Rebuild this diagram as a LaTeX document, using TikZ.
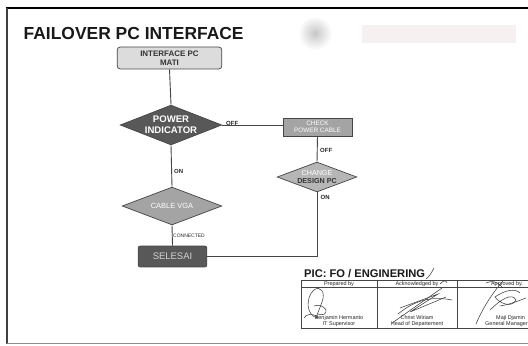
\documentclass[tikz,border=0pt]{standalone}
\usepackage{fontspec}
\setmainfont{Liberation Sans}
\usetikzlibrary{shapes.geometric}
\newcommand\myfs[1]{\fontsize{#1}{\fpeval{#1*1.12}}\selectfont}
\definecolor{lin}{HTML}{454545}
\definecolor{bxlight}{HTML}{DCDCDC}
\definecolor{bxdark}{HTML}{585858}
\definecolor{bxmid}{HTML}{A4A4A4}
\definecolor{bxmid2}{HTML}{B6B6B6}
\definecolor{seltext}{HTML}{D2D2D2}
\definecolor{pinkish}{HTML}{F6F0F0}
\begin{document}
\begin{tikzpicture}[x=1bp,y=-1bp,
  conn/.style={draw=lin, line width=0.9bp},
  boxst/.style={draw=lin, line width=0.7bp, rectangle, inner sep=0},
  diast/.style={draw=lin, line width=0.7bp, diamond, inner sep=0},
  lab/.style={font=\myfs{6}\bfseries, text=black!85, inner sep=0, anchor=west},
  tab/.style={draw=lin, line width=0.6bp},
  sig/.style={draw=black!75, line width=0.55bp, line cap=round},
  small/.style={font=\myfs{5.5}, inner sep=0, align=center, text=black!85}]
\useasboundingbox (0,0) rectangle (528,345);
\clip (0,0) rectangle (528,345);
\fill[white] (0,0) rectangle (528,345);
% frame
\draw[black, line width=2.2bp] (6,8) -- (530,8);
\draw[black!75, line width=2bp] (7,8) -- (7,343.5);
\draw[black!45, line width=1bp] (7,343.5) -- (530,343.5);
% blurred logo
\shade[inner color=black!22, outer color=white] (315,33) circle (17);
\fill[pinkish] (362,25) rectangle (516,43);
% title
\node[font=\myfs{17.5}\bfseries, inner sep=0, anchor=base west, text=black!90] (title) at (23.5,39.5) {FAILOVER PC INTERFACE};
% nodes
\node[boxst, rounded corners=3bp, fill=bxlight, minimum width=105, minimum height=22,
  font=\myfs{8}\bfseries, align=center, text=black!80] (ipc) at (169.5,58) {INTERFACE PC\\MATI};
\node[diast, fill=bxdark, minimum width=102, minimum height=40,
  label={[font=\myfs{9.6}\bfseries, text=white, align=center, inner sep=0]center:{POWER\\INDICATOR}}] (pw) at (171,125) {};
\node[boxst, fill=bxmid, minimum width=69, minimum height=18,
  font=\myfs{6.4}, align=center, text=white] (chk) at (317.5,127) {CHECK\\POWER CABLE};
\node[diast, fill=bxmid2, minimum width=80, minimum height=30,
  label={[font=\myfs{7.2}, align=center, inner sep=0]center:{\textcolor{white}{CHANGE}\\\textcolor{black!80}{\bfseries DESIGN PC}}}] (chg) at (317,177) {};
\node[diast, fill=bxmid, minimum width=100, minimum height=38,
  label={[font=\myfs{7.5}, text=white, inner sep=0]center:{CABLE VGA}}] (vga) at (172,206) {};
\node[boxst, rounded corners=2bp, fill=bxdark, minimum width=69, minimum height=21,
  font=\myfs{9.5}, text=seltext] (sel) at (172.5,256.5) {SELESAI};
\coordinate (corner) at (chg.south |- sel.east);
% connectors
\draw[conn] (ipc.south) -- (pw.north);
\draw[conn] (pw.east) -- (pw.east -| chk.west);
\draw[conn] (chk.south) -- (chg.north);
\draw[conn] (chg.south) -- (corner) -- (sel.east);
\draw[conn] (pw.south) -- (vga.north);
\draw[conn] (vga.south) -- (sel.north);
% labels
\node[lab] (l1) at (226,123) {OFF};
\node[lab] (l2) at (320,150) {OFF};
\node[lab] (l3) at (320.5,197) {ON};
\node[lab] (l4) at (174,171) {ON};
\node[lab, font=\myfs{5}] (l5) at (173,236) {CONNECTED};
% PIC
\node[font=\myfs{11.2}\bfseries, inner sep=0, anchor=base west, text=black!90] (pic) at (304,277) {PIC: FO / ENGINERING};
\draw[sig] (426,279) .. controls (429,277) and (432,272) .. (434,268);
% table
\draw[tab] (301,280) rectangle (540,328);
\draw[tab] (301,287) -- (540,287);
\draw[tab] (377,280) -- (377,328);
\draw[tab] (457,280) -- (457,328);
\node[small] (h1) at (339,283.7) {Prepared by};
\node[small] (h2) at (417,283.7) {Acknowledged by};
\node[small] (h3) at (507,283.7) {Approved by.};
\node[small, anchor=north] (n1) at (339,315.5) {Benjamin Hermanto\\IT Supervisor};
\node[small, anchor=north] (n2) at (417,315.5) {Christ Wiriam\\Head of Departement};
\node[small, anchor=north west] (n3) at (485,315.5) {\hspace*{8bp}Maji Djamin\\General Manager};
% signatures
\draw[sig] (318,318) .. controls (305,316) and (306,296) .. (314,290)
  .. controls (320,285) and (326,292) .. (322,302)
  .. controls (320,308) and (318,312) .. (316,318);
\draw[sig] (314,306) .. controls (318,304) and (324,306) .. (326,310)
  .. controls (327,314) and (322,316) .. (318,314);
\draw[sig] (304,318) .. controls (306,314) and (312,313) .. (318,317);
\draw[sig] (392,323) -- (442,288);
\draw[sig] (398,314) .. controls (415,300) and (432,296) .. (452,300);
\draw[sig] (400,308) -- (438,294) -- (410,312) -- (446,297);
\draw[sig] (440,284) .. controls (444,280) and (446,280) .. (447,283);
\draw[sig] (476,324) .. controls (484,305) and (495,290) .. (503,281);
\draw[sig] (490,310) .. controls (500,300) and (512,292) .. (516,300)
  .. controls (512,308) and (500,304) .. (495,297)
  .. controls (505,290) and (515,288) .. (520,293);
\draw[sig] (500,306) .. controls (512,304) and (520,300) .. (526,298);
\draw[sig] (486,283) .. controls (492,280) and (498,282) .. (502,287);
\end{tikzpicture}
\end{document}
